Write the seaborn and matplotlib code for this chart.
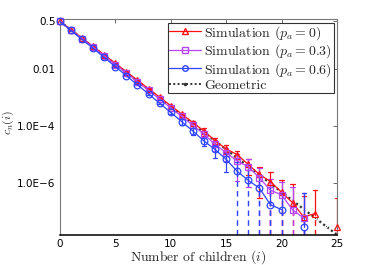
import numpy as np
import pandas as pd
import matplotlib
matplotlib.use("Agg")
import matplotlib.pyplot as plt
from matplotlib.lines import Line2D
import seaborn as sns

# number of children i = 0..25
children = list(range(26))

# c_n(i) (nan = no sample, line is broken there)
sim_pa0 = [0.5, 0.255, 0.129, 0.0650, 0.0328, 0.0166, 8.35e-3, 4.20e-3, 2.11e-3,
           1.06e-3, 5.33e-4, 2.67e-4, 1.35e-4, 6.76e-5, 3.09e-5, 1.58e-5, 1.00e-5,
           4.47e-6, 2.00e-6, 1.12e-6, 4.68e-7, 2.00e-7, 6.30e-8, 8.30e-8, np.nan, 2.75e-8]
sim_pa03 = [0.5, 0.248, 0.123, 0.0612, 0.0303, 0.0150, 7.45e-3, 3.70e-3, 1.83e-3,
            9.05e-4, 4.48e-4, 2.22e-4, 1.08e-4, 5.25e-5, 2.29e-5, 1.17e-5, 5.89e-6,
            3.72e-6, 1.51e-6, 5.50e-7, 3.80e-7, 1.12e-7, 5.75e-8, np.nan, np.nan, np.nan]
sim_pa06 = [0.5, 0.239, 0.116, 0.0557, 0.0267, 0.0127, 6.04e-3, 2.88e-3, 1.38e-3,
            6.45e-4, 3.08e-4, 1.44e-4, 6.76e-5, 3.02e-5, 1.51e-5, 6.76e-6, 2.57e-6,
            1.23e-6, 6.60e-7, 1.70e-7, 1.15e-7, np.nan, 2.75e-8, np.nan, np.nan, np.nan]

# error bar half widths
err_pa0 = [0.0, 2e-3, 1.5e-3, 1e-3, 6e-4, 4e-4, 2.5e-4, 1.5e-4, 1e-4, 7e-5, 4e-5,
           2.5e-5, 1.5e-5, 2.1e-5, 8.9e-6, 5.6e-6, 3.2e-6, 2.6e-6, 1.7e-6, 1.4e-6,
           8.5e-7, 7.1e-7, 2.9e-7, 4.7e-7, np.nan, 2.7e-7]
err_pa03 = [0.0, 2e-3, 1.5e-3, 1e-3, 6e-4, 4e-4, 2.5e-4, 1.5e-4, 1e-4, 7e-5, 4e-5,
            3e-5, 2e-5, 1.5e-5, 9e-6, 6e-6, 4.7e-6, 3.0e-6, 1.8e-6, 8e-7, 7e-7,
            6e-7, 4e-7, np.nan, np.nan, np.nan]
err_pa06 = [0.0, 2e-3, 1.5e-3, 1e-3, 6e-4, 4e-4, 2.5e-4, 1.5e-4, 1e-4, 6e-5, 4e-5,
            3e-5, 2e-5, 1.0e-5, 7.3e-6, 4.4e-6, 2.9e-6, 1.6e-6, 1.0e-6, 5.5e-7,
            3.2e-7, np.nan, 4.1e-7, np.nan, np.nan, np.nan]

geometric = [0.5 ** (k + 1) for k in children]

labels = [r"Simulation ($p_a = 0$)", r"Simulation ($p_a = 0.3$)", r"Simulation ($p_a = 0.6$)"]
colors = ["#ff1010", "#b545f5", "#2f45ff"]
markers = ["^", "s", "o"]
msizes = [5, 4, 4.8]

YMIN, YMAX = 1.45e-8, 0.6

sns.set_theme(style="white")
plt.rcParams["font.family"] = ["DejaVu Sans"]
plt.rcParams["mathtext.fontset"] = "cm"

fig = plt.figure(figsize=(3.74, 2.65), dpi=100)
ax = fig.add_axes([0.160, 0.113, 0.741, 0.815])

# geometric reference
geo_df = pd.DataFrame({"i": children, "c": geometric})
sns.lineplot(data=geo_df, x="i", y="c", ax=ax, color="#333333", linestyle=(0, (1, 1.2)),
             linewidth=1.6, marker=".", markersize=3, legend=False, zorder=1)

for vals, errs, col, mk, ms in zip([sim_pa0, sim_pa03, sim_pa06],
                                   [err_pa0, err_pa03, err_pa06],
                                   colors, markers, msizes):
    v = np.array(vals, dtype=float)
    e = np.array(errs, dtype=float)
    # split runs at missing values so the line is broken there
    seg = np.cumsum(np.isnan(v))
    d = pd.DataFrame({"i": children, "c": v, "seg": seg}).dropna()
    sns.lineplot(data=d, x="i", y="c", units="seg", estimator=None, ax=ax, color=col,
                 linewidth=0.9, marker=mk, markersize=ms, markerfacecolor="none",
                 markeredgecolor=col, markeredgewidth=0.9, legend=False, zorder=3,
                 clip_on=False)
    for k in children:
        if np.isnan(v[k]) or np.isnan(e[k]) or e[k] == 0:
            continue
        hi = v[k] + e[k]
        lo = v[k] - e[k]
        ax.plot([k, k], [v[k], hi], color=col, lw=0.9, zorder=2)
        ax.plot([k - 0.2, k + 0.2], [hi, hi], color=col, lw=0.9, zorder=2)
        if lo > 0:
            ax.plot([k, k], [lo, v[k]], color=col, lw=0.9, zorder=2)
            ax.plot([k - 0.2, k + 0.2], [lo, lo], color=col, lw=0.9, zorder=2)
        else:
            ax.plot([k, k], [YMIN, v[k]], color=col, lw=1.0, linestyle=(0, (4, 3)), zorder=2)

ax.set_yscale("log")
ax.set_xlim(0, 25)
ax.set_ylim(YMIN, YMAX)
ax.set_xticks([0, 5, 10, 15, 20, 25])
ax.set_yticks([1e-6, 1e-4, 1e-2, 0.5])
ax.set_yticklabels(["1.0E\u22126", "1.0E\u22124", "0.01", "0.5"])
ax.minorticks_off()
ax.tick_params(direction="in", length=3, width=0.6, labelsize=7.5, top=True, right=True,
               colors="#555555", labelcolor="black", pad=3)

for s in ["left", "top", "right"]:
    ax.spines[s].set_color("#777777")
    ax.spines[s].set_linewidth(0.8)
ax.spines["bottom"].set_color("black")
ax.spines["bottom"].set_linewidth(1.1)

ax.set_xlabel(r"Number of children ($i$)", family="cmr10", fontsize=9.8, labelpad=-0.5)
ax.set_ylabel(r"$c_n(i)$", fontsize=8.5)
ax.yaxis.set_label_coords(-0.158, 0.52)

handles = [Line2D([], [], color=c, marker=m, markersize=4, markerfacecolor="none",
                  markeredgecolor=c, lw=0.9) for c, m in zip(colors, markers)]
handles.append(Line2D([], [], color="#333333", linestyle=(0, (1, 1.2)), lw=1.4,
                      marker=".", markersize=3))
leg = ax.legend(handles, labels + ["Geometric"], loc="upper right",
                prop={"family": "cmr10", "size": 10}, frameon=True, fancybox=False,
                edgecolor="#333333", framealpha=1, borderpad=0.1, labelspacing=0.05,
                handlelength=2.3, handletextpad=0.2, borderaxespad=0.25)
leg.get_frame().set_linewidth(0.8)

fig.savefig("out.png", dpi=100)
